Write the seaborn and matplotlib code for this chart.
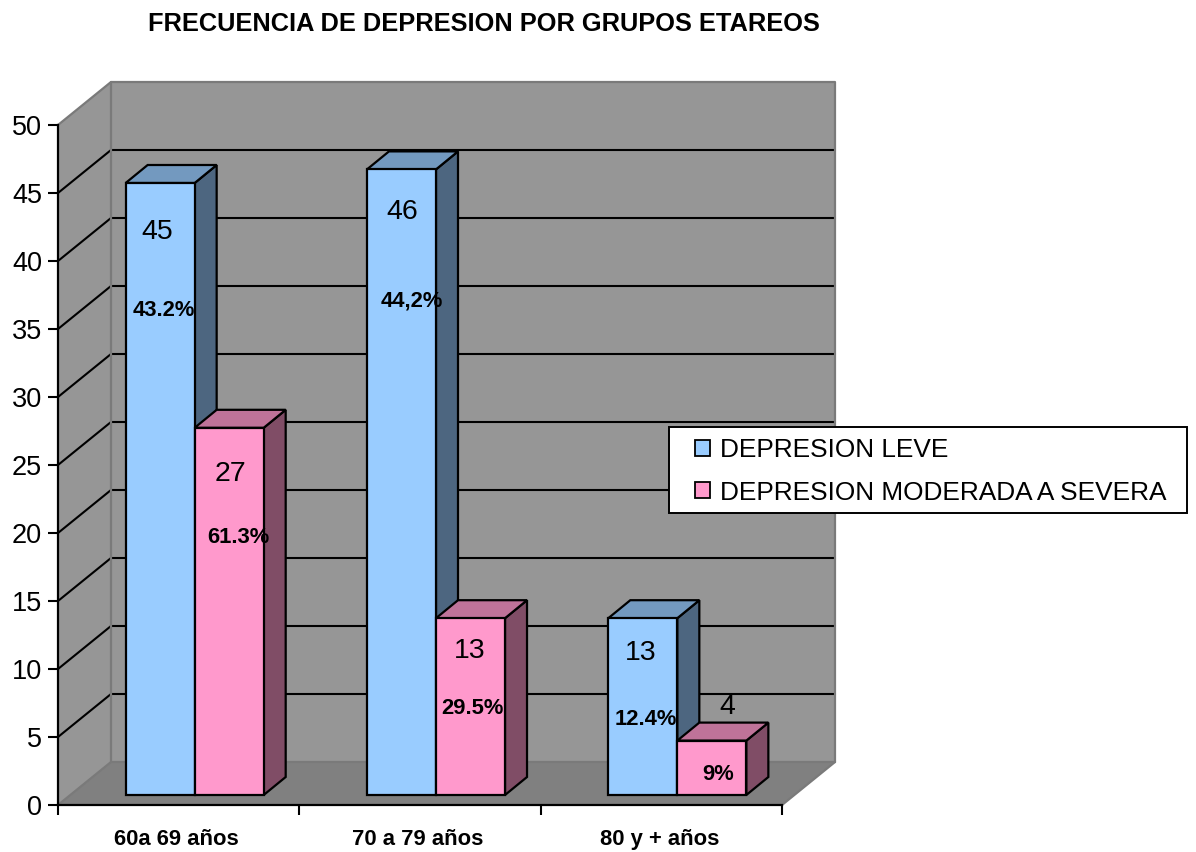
import matplotlib
matplotlib.use("Agg")
import matplotlib.pyplot as plt
import pandas as pd
import seaborn as sns
from matplotlib.patches import Polygon, Rectangle
from matplotlib.transforms import Affine2D, IdentityTransform

# Values per age group and severity
groups = ["60a 69 años", "70 a 79 años", "80 y + años"]
leve = [45, 46, 13]
moderada = [27, 13, 4]
series_names = ["DEPRESION LEVE", "DEPRESION MODERADA A SEVERA"]
pct_leve = ["43.2%", "44,2%", "12.4%"]
pct_moderada = ["61.3%", "29.5%", "9%"]

# Label nudges in pixels from the top centre of each bar's front face
count_nudge = [[(-3, -49), (1, -43), (-2, -35)], [(1, -46), (-1, -33), (15, 34)]]
pct_nudge = [[(4, -128), (10, -132), (3, -101)], [(9, -110), (2, -90), (6, -34)]]

FACE = {"blue": "#99CCFF", "pink": "#FF99CC"}
SIDE = ["#4D6680", "#804D66"]
TOP = ["#7399BF", "#BF7399"]
WALL = "#969696"
FLOOR = "#808080"
WALL_EDGE = "#7A7A7A"
W, H = 1196, 852

sns.set_theme(style="white")
plt.rcParams["font.family"] = ["Liberation Sans", "DejaVu Sans"]

fig = plt.figure(figsize=(W / 100, H / 100), dpi=100)
ax = fig.add_axes([58 / W, (H - 805) / H, 724 / W, 680 / H])

df = pd.DataFrame({
    "grupo": groups * 2,
    "casos": leve + moderada,
    "serie": [series_names[0]] * 3 + [series_names[1]] * 3,
})
sns.barplot(data=df, x="grupo", y="casos", hue="serie", hue_order=series_names,
            palette=[FACE["blue"], FACE["pink"]], saturation=1, width=0.572, gap=0,
            edgecolor="black", linewidth=1.6, ax=ax, legend=True, errorbar=None)
ax.set_xlim(-0.5, 2.5)
ax.set_ylim(0, 50)
ax.set_xlabel("")
ax.set_ylabel("")
fig.canvas.draw()


def shifted(x, y, dx=0, dy=0):
    """Data point moved by a depth offset given in pixels."""
    px, py = ax.transData.transform((x, y))
    return (px + dx, py + dy)


def face(points, color, z, edge="none", lw=0):
    ax.add_patch(Polygon(points, closed=True, facecolor=color, edgecolor=edge,
                         linewidth=lw, transform=IdentityTransform(),
                         clip_on=False, zorder=z, joinstyle="miter"))


# Chart box: side wall, back wall and floor
DEPTH = (53, 43)
x0, x1 = ax.get_xlim()
y0, y1 = ax.get_ylim()
ax.patch.set_alpha(0)
face([shifted(x0, y0), shifted(x0, y1), shifted(x0, y1, *DEPTH), shifted(x0, y0, *DEPTH)], WALL, 0.2)
face([shifted(x0, y0, *DEPTH), shifted(x0, y1, *DEPTH), shifted(x1, y1, *DEPTH), shifted(x1, y0, *DEPTH)], WALL, 0.2)
face([shifted(x0, y0), shifted(x1, y0), shifted(x1, y0, *DEPTH), shifted(x0, y0, *DEPTH)], FLOOR, 0.3)

# Gridlines run across the side wall and along the back wall
identity = IdentityTransform()
for v in range(5, 50, 5):
    a, b, c = shifted(x0, v), shifted(x0, v, *DEPTH), shifted(x1, v, *DEPTH)
    ax.plot([a[0], b[0], c[0]], [a[1], b[1], c[1]], color="black", lw=1.5,
            transform=identity, clip_on=False, zorder=0.5)

# Grey edges of the box
for pts in ([shifted(x0, y1), shifted(x0, y1, *DEPTH), shifted(x1, y1, *DEPTH), shifted(x1, y0, *DEPTH)],
            [shifted(x0, y0, *DEPTH), shifted(x0, y1, *DEPTH)],
            [shifted(x0, y0), shifted(x0, y0, *DEPTH), shifted(x1, y0, *DEPTH)],
            [shifted(x1, y0), shifted(x1, y0, *DEPTH)]):
    ax.plot([p[0] for p in pts], [p[1] for p in pts], color=WALL_EDGE, lw=1.6,
            transform=identity, clip_on=False, zorder=0.6)

# Bars stand inside the box, so their fronts sit a little behind the axis plane
BAR_SHIFT = (16, 10)
BAR_DEPTH = (22, 18)
bar_transform = ax.transData + Affine2D().translate(*BAR_SHIFT)

for s, container in enumerate(ax.containers):
    for i, bar in enumerate(container.patches):
        xl, xr = bar.get_x(), bar.get_x() + bar.get_width()
        top = bar.get_height()
        z = 2 + i * 2 + s * 0.5
        bar.set_transform(bar_transform)
        bar.set_clip_on(False)
        bar.set_zorder(z + 0.2)
        bar.set_joinstyle("miter")
        sx, sy = BAR_SHIFT
        dx, dy = BAR_DEPTH
        face([shifted(xr, 0, sx, sy), shifted(xr, top, sx, sy),
              shifted(xr, top, sx + dx, sy + dy), shifted(xr, 0, sx + dx, sy + dy)],
             SIDE[s], z, "black", 1.6)
        face([shifted(xl, top, sx, sy), shifted(xr, top, sx, sy),
              shifted(xr, top, sx + dx, sy + dy), shifted(xl, top, sx + dx, sy + dy)],
             TOP[s], z + 0.1, "black", 1.6)
        cx = (xl + xr) / 2
        ax.annotate(str(int(top)), xy=(cx, top),
                    xycoords=bar_transform, xytext=count_nudge[s][i],
                    textcoords="offset pixels", ha="center", va="center",
                    fontsize=20.5, color="black", zorder=20, annotation_clip=False)
        ax.annotate((pct_leve if s == 0 else pct_moderada)[i], xy=(cx, top),
                    xycoords=bar_transform, xytext=pct_nudge[s][i],
                    textcoords="offset pixels", ha="center", va="center",
                    fontsize=15.8, fontweight="bold", color="black", zorder=20,
                    annotation_clip=False)

# Axes: value ticks on the front edge, category ticks between the groups
ax.spines["top"].set_visible(False)
ax.spines["right"].set_visible(False)
for side in ("left", "bottom"):
    ax.spines[side].set_color("black")
    ax.spines[side].set_linewidth(1.6)
    ax.spines[side].set_zorder(1.5)
ax.set_yticks(range(0, 55, 5))
ax.tick_params(axis="y", which="major", left=True, length=7.5, width=1.5, color="black",
               labelsize=19.5, labelcolor="black", pad=4)
ax.set_xticks([-0.5, 0.5, 1.5, 2.5])
ax.set_xticklabels([])
ax.tick_params(axis="x", which="major", bottom=True, length=7.5, width=1.5, color="black")
ax.set_xticks([-0.008, 0.992, 1.992], labels=groups, minor=True)
ax.tick_params(axis="x", which="minor", bottom=False, labelsize=15.8, labelcolor="black", pad=13)
for lab in ax.get_xticklabels(minor=True):
    lab.set_fontweight("bold")

# Legend: entries without their own frame, box drawn separately for its uneven padding
handles, labels = ax.get_legend_handles_labels()
ax.get_legend().remove()
fig.add_artist(Rectangle((669 / W, (H - 513) / H), 518 / W, 86 / H, transform=fig.transFigure,
                         facecolor="white", edgecolor="black", linewidth=1.4, zorder=29))
leg = fig.legend(handles, labels, loc="center left",
                 bbox_to_anchor=(695 / W, (H - 471.5) / H), bbox_transform=fig.transFigure,
                 frameon=False, fontsize=18.9, handlelength=0.56, handleheight=0.56,
                 handletextpad=0.38, borderpad=0, borderaxespad=0, labelspacing=0.7,
                 labelcolor="black")
leg.set_zorder(30)
for h in leg.legend_handles:
    h.set_edgecolor("black")
    h.set_linewidth(1.3)

fig.text(484 / W, (H - 24) / H, "FRECUENCIA DE DEPRESION POR GRUPOS ETAREOS",
         ha="center", va="center", fontsize=18.3, fontweight="bold", color="black")

fig.savefig("out.png", dpi=100)
